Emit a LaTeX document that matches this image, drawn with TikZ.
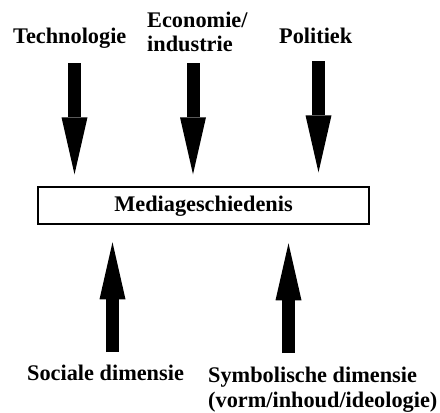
\documentclass[tikz,border=0pt]{standalone}
\usepackage{fontspec}
\setmainfont{Liberation Serif}
\usetikzlibrary{arrows.meta}
\begin{document}
\begin{tikzpicture}[x=1pt,y=-1pt,
  lbl/.style={font=\fontsize{22.3}{24.7}\selectfont\bfseries, inner sep=0pt, align=left},
  fatarrow/.style={line width=13pt, -{Triangle[width=26pt,length=57pt,line width=0pt]}},
  framebox/.style={draw, line width=2pt, minimum width=331pt, minimum height=37pt,
    inner sep=0pt, font=\fontsize{22.3}{24.7}\selectfont\bfseries},
]
\useasboundingbox (0,0) rectangle (440,413);

% influences from above (base anchor = baseline of the last line)
\node[lbl, anchor=base west] (tech) at (13,43) {Technologie};
\node[lbl, anchor=base west] (econ) at (147,51.7) {Economie/\\industrie};
\node[lbl, anchor=base west] (pol)  at (279,43) {Politiek};

% central box
\node[framebox] (box) at (203.5,205.8) {Mediageschiedenis};

% influences from below
\node[lbl, anchor=base west] (soc) at (27,380) {Sociale dimensie};
\node[lbl, anchor=base west] (sym) at (208,407) {Symbolische dimensie\\(vorm/inhoud/ideologie)};

% arrow start points
\coordinate (s1) at (74.5,63);
\coordinate (s2) at (193,63);
\coordinate (s3) at (318.5,61);
\coordinate (s4) at (112.5,352);
\coordinate (s5) at (288.5,353);

\draw[fatarrow, shorten >=12pt] (s1) -- (s1 |- box.north);
\draw[fatarrow, shorten >=12pt] (s2) -- (s2 |- box.north);
\draw[fatarrow, shorten >=14pt] (s3) -- (s3 |- box.north);
\draw[fatarrow, shorten >=17pt] (s4) -- (s4 |- box.south);
\draw[fatarrow, shorten >=18pt] (s5) -- (s5 |- box.south);
\end{tikzpicture}
\end{document}
